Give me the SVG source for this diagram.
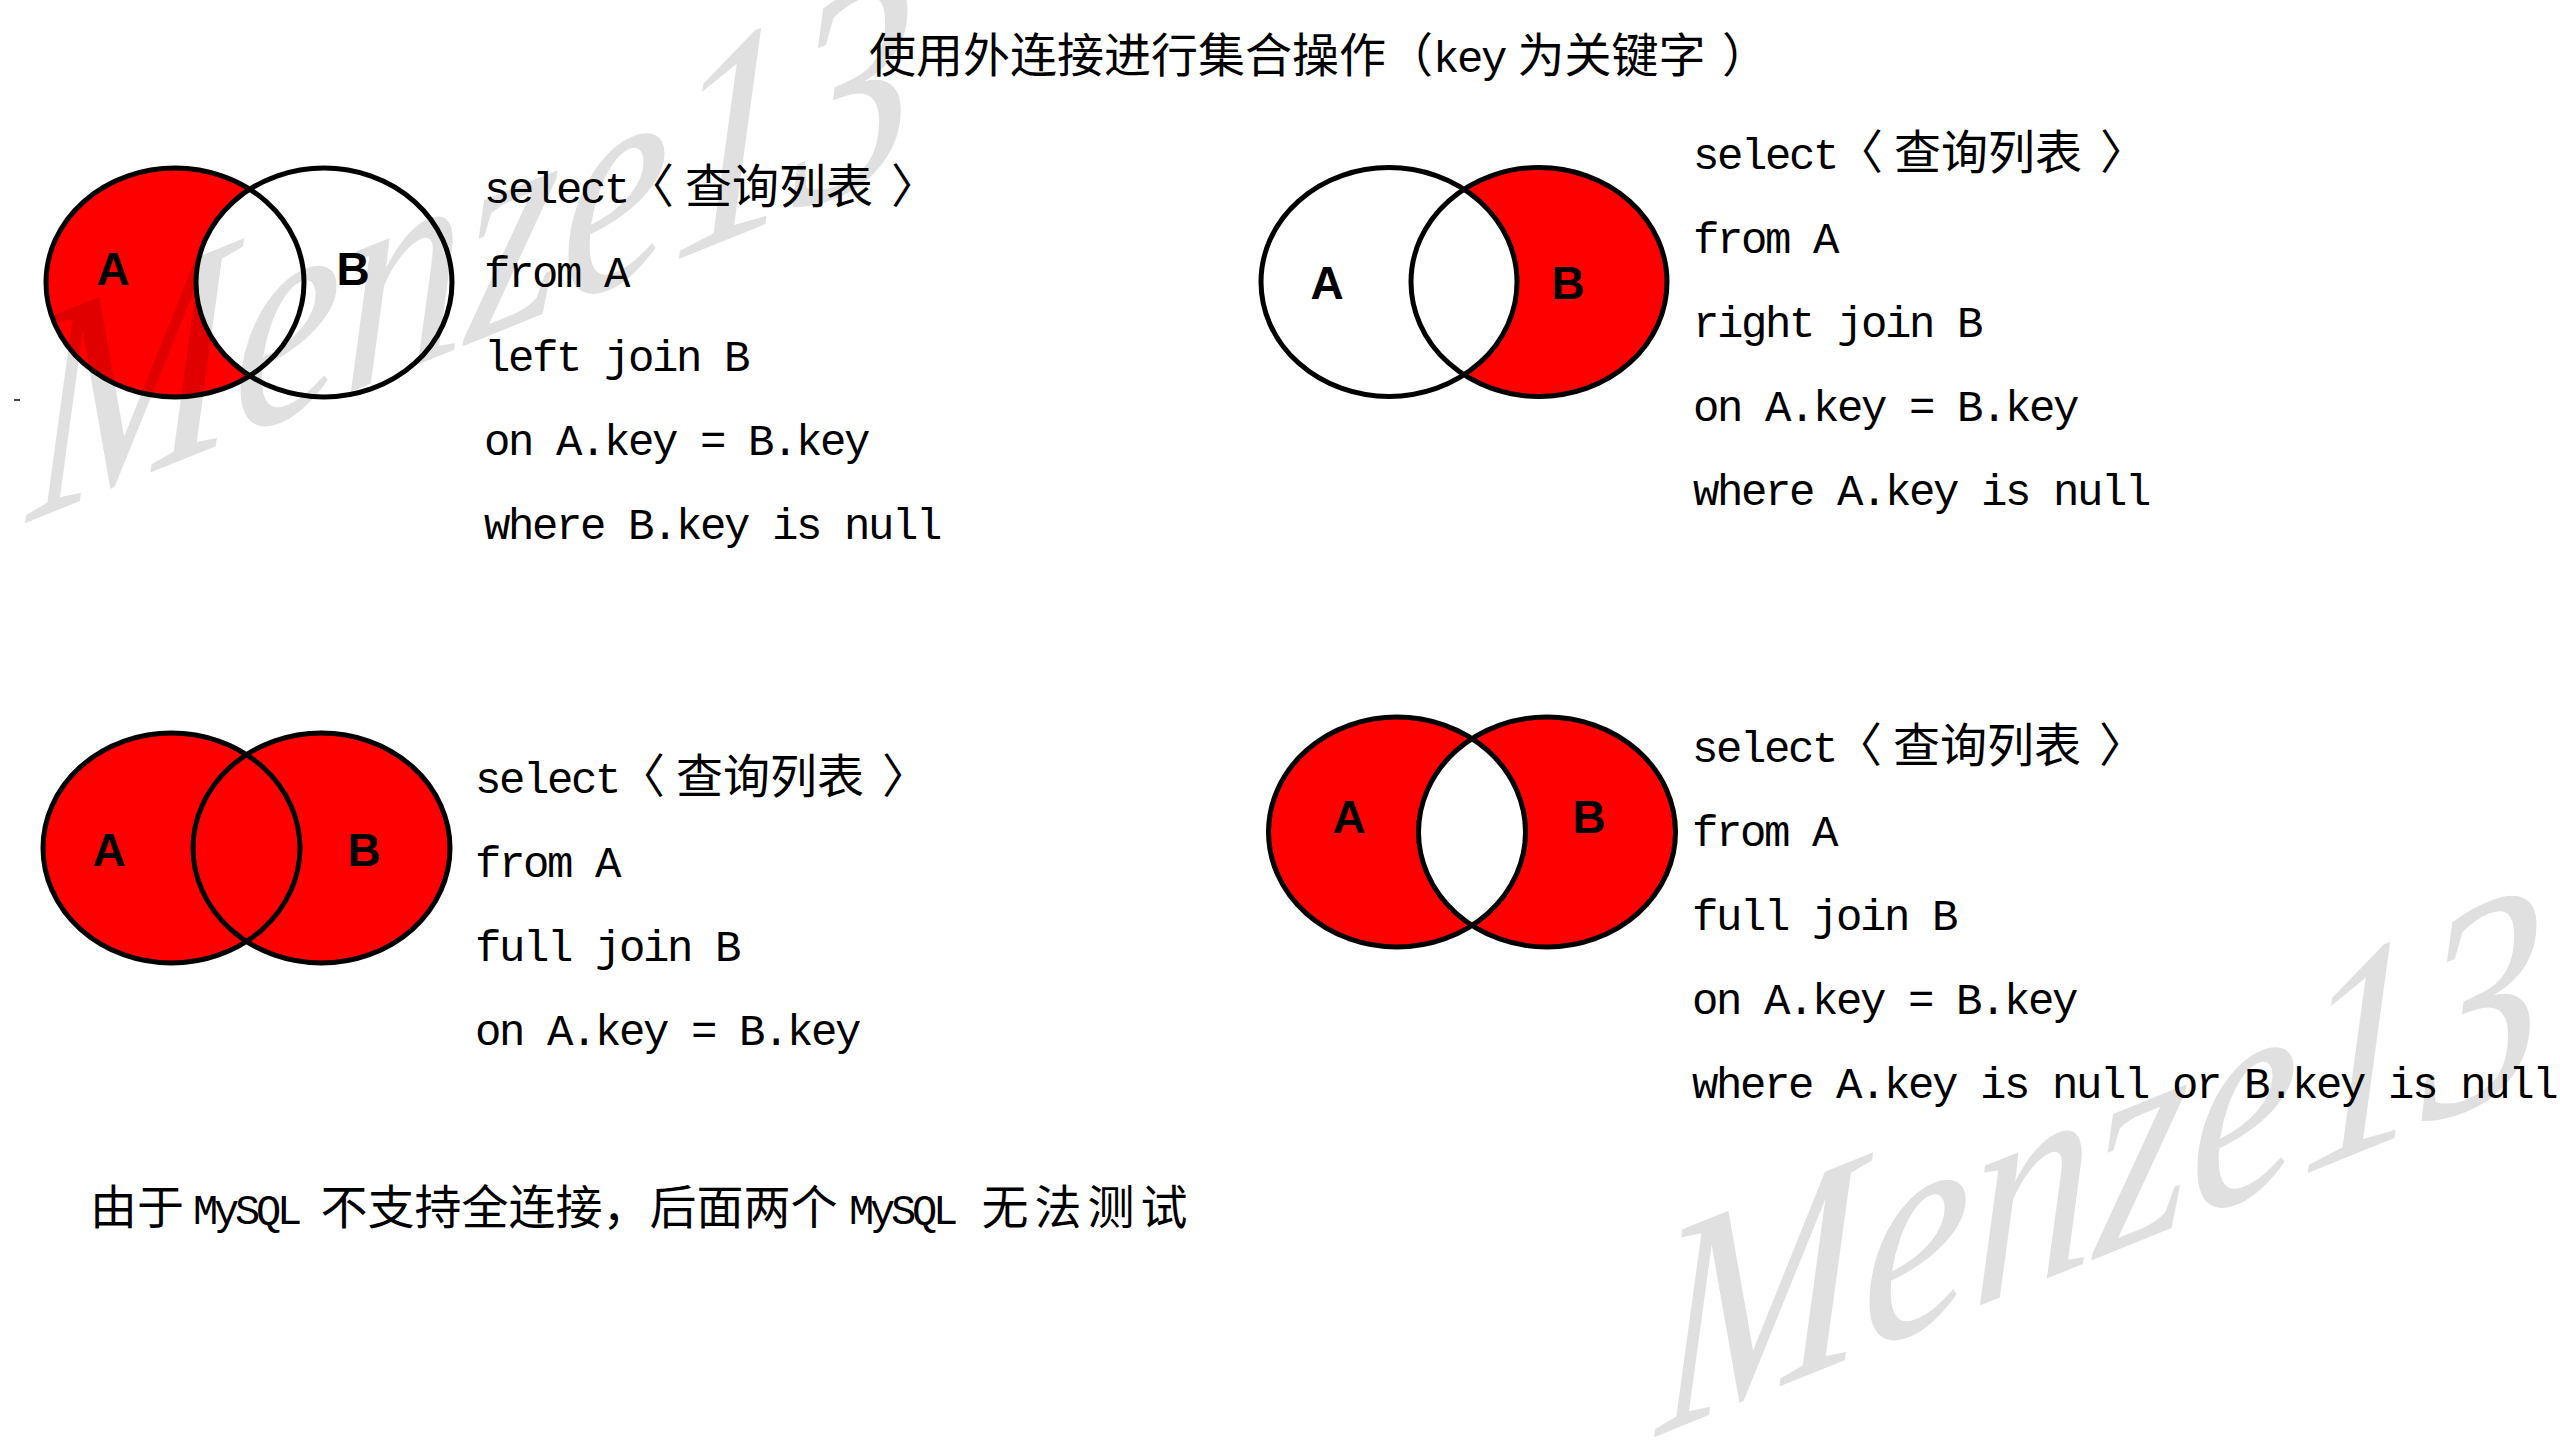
<svg xmlns="http://www.w3.org/2000/svg" width="2560" height="1440" viewBox="0 0 2560 1440">
<style>
.red{fill:#ff0000}
.wht{fill:#ffffff}
.ol{fill:none;stroke:#000;stroke-width:5}
.lbl{font-family:"Liberation Sans",Arial,sans-serif;font-weight:bold;font-size:46px;fill:#000;text-anchor:middle}
.code{font-family:"Liberation Mono","Noto Sans CJK SC",monospace;font-size:44px;letter-spacing:-2.4px;fill:#000}
.cjk{font-family:"Noto Sans CJK SC",sans-serif;font-size:47px;letter-spacing:0px;fill:#000}
.lat{font-family:"Liberation Mono",monospace;font-size:44px;letter-spacing:-2.4px}
.latn{font-family:"Liberation Mono",monospace;font-size:42px;letter-spacing:-4.2px}
.wm{font-family:"Liberation Serif",serif;font-style:italic;font-size:300px;fill:#000;fill-opacity:0.12}
</style>
<defs>
<clipPath id="clipD4A"><ellipse cx="1397" cy="832" rx="128.5" ry="115"/></clipPath>
</defs>
<rect x="0" y="0" width="2560" height="1440" fill="#ffffff"/>

<g id="title">
<text class="cjk" x="869" y="72">使用外连接进行集合操作（<tspan class="lat" x="1433">key</tspan><tspan x="1507"> 为关键字 </tspan><tspan x="1722">）</tspan></text>
</g>

<g id="venn-left">
<ellipse class="red" cx="175" cy="282.5" rx="129" ry="114.5"/>
<ellipse class="wht" cx="324" cy="282.5" rx="128" ry="114.5"/>
<ellipse class="ol" cx="175" cy="282.5" rx="129" ry="114.5"/>
<ellipse class="ol" cx="324" cy="282.5" rx="128" ry="114.5"/>
<text class="lbl" x="113" y="285">A</text>
<text class="lbl" x="353" y="285">B</text>
</g>

<g id="sql-left">
<text class="code" x="484" y="203">select<tspan class="cjk" x="627">〈</tspan><tspan class="cjk" x="685">查询列表</tspan><tspan class="cjk" x="891">〉</tspan></text>
<text class="code" x="484" y="287">from A</text>
<text class="code" x="484" y="371">left join B</text>
<text class="code" x="484" y="455">on A.key = B.key</text>
<text class="code" x="484" y="539">where B.key is null</text>
</g>

<g id="venn-right">
<ellipse class="red" cx="1539" cy="282" rx="128" ry="114.5"/>
<ellipse class="wht" cx="1389" cy="282" rx="128" ry="114.5"/>
<ellipse class="ol" cx="1389" cy="282" rx="128" ry="114.5"/>
<ellipse class="ol" cx="1539" cy="282" rx="128" ry="114.5"/>
<text class="lbl" x="1327" y="299">A</text>
<text class="lbl" x="1568" y="299">B</text>
</g>

<g id="sql-right">
<text class="code" x="1693" y="169">select<tspan class="cjk" x="1836">〈</tspan><tspan class="cjk" x="1894">查询列表</tspan><tspan class="cjk" x="2100">〉</tspan></text>
<text class="code" x="1693" y="253">from A</text>
<text class="code" x="1693" y="337">right join B</text>
<text class="code" x="1693" y="421">on A.key = B.key</text>
<text class="code" x="1693" y="505">where A.key is null</text>
</g>

<g id="venn-full">
<ellipse class="red" cx="171.5" cy="848" rx="128.5" ry="115"/>
<ellipse class="red" cx="321.5" cy="848" rx="128.5" ry="115"/>
<ellipse class="ol" cx="171.5" cy="848" rx="128.5" ry="115"/>
<ellipse class="ol" cx="321.5" cy="848" rx="128.5" ry="115"/>
<text class="lbl" x="109" y="866">A</text>
<text class="lbl" x="364" y="866">B</text>
</g>

<g id="sql-full">
<text class="code" x="475" y="793">select<tspan class="cjk" x="618">〈</tspan><tspan class="cjk" x="676">查询列表</tspan><tspan class="cjk" x="882">〉</tspan></text>
<text class="code" x="475" y="877">from A</text>
<text class="code" x="475" y="961">full join B</text>
<text class="code" x="475" y="1045">on A.key = B.key</text>
</g>

<g id="venn-full-exclusive">
<ellipse class="red" cx="1397" cy="832" rx="128.5" ry="115"/>
<ellipse class="red" cx="1547" cy="832" rx="128.5" ry="115"/>
<ellipse class="wht" cx="1547" cy="832" rx="128.5" ry="115" clip-path="url(#clipD4A)"/>
<ellipse class="ol" cx="1397" cy="832" rx="128.5" ry="115"/>
<ellipse class="ol" cx="1547" cy="832" rx="128.5" ry="115"/>
<text class="lbl" x="1349" y="833">A</text>
<text class="lbl" x="1589" y="833">B</text>
</g>

<g id="sql-full-exclusive">
<text class="code" x="1692" y="762">select<tspan class="cjk" x="1835">〈</tspan><tspan class="cjk" x="1893">查询列表</tspan><tspan class="cjk" x="2099">〉</tspan></text>
<text class="code" x="1692" y="846">from A</text>
<text class="code" x="1692" y="930">full join B</text>
<text class="code" x="1692" y="1014">on A.key = B.key</text>
<text class="code" x="1692" y="1098">where A.key is null or B.key is null</text>
</g>

<g id="note">
<text class="cjk" x="90" y="1224">由于<tspan class="latn" x="193">MySQL</tspan><tspan x="310"> 不支持全连接，后面两个</tspan><tspan class="latn" x="849">MySQL</tspan><tspan x="965" letter-spacing="6"> 无法测试</tspan></text>
</g>

<g id="connectors"></g>

<line x1="14" y1="400" x2="20" y2="400" stroke="#444" stroke-width="2"/>

<g id="watermark" class="wm">
<text x="0" y="0" transform="translate(28,522) skewY(-22) scale(0.82,1)">Menze13</text>
<text x="0" y="0" transform="translate(1657,1436) skewY(-22) scale(0.82,1)">Menze13</text>
</g>
</svg>
